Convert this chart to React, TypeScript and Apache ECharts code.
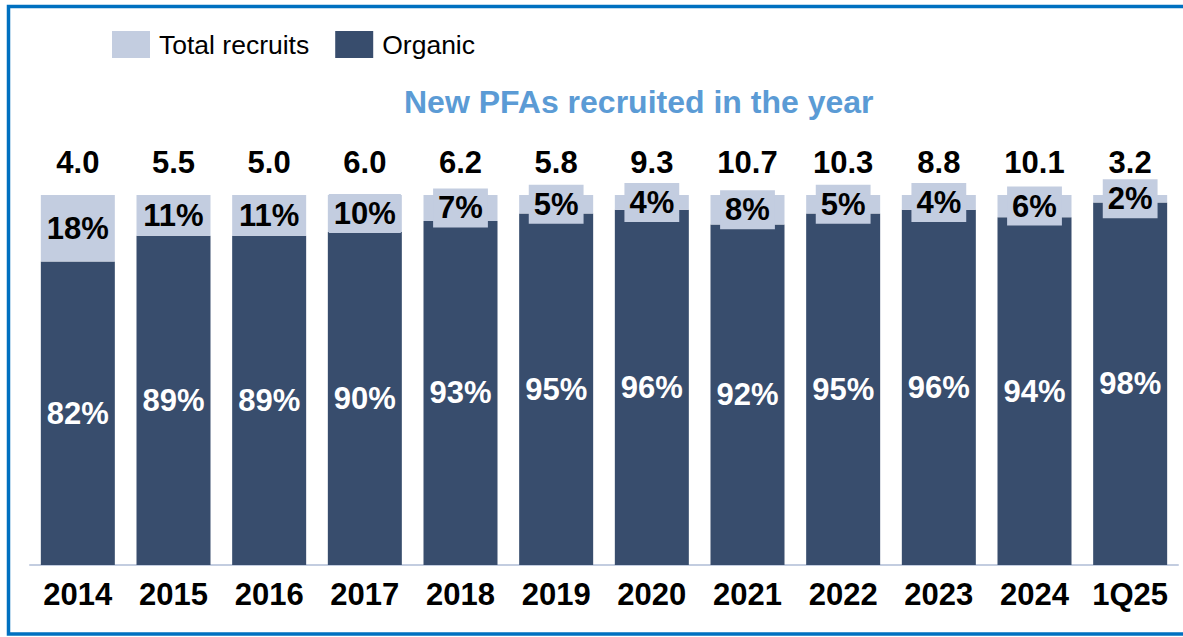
import React, { useEffect, useRef } from "react";
import * as echarts from "echarts";

const categories = ["2014", "2015", "2016", "2017", "2018", "2019", "2020", "2021", "2022", "2023", "2024", "1Q25"];
const organicPct = [82, 89, 89, 90, 93, 95, 96, 92, 95, 96, 94, 98];
const otherPct = [18, 11, 11, 10, 7, 5, 4, 8, 5, 4, 6, 2];
const totals = ["4.0", "5.5", "5.0", "6.0", "6.2", "5.8", "9.3", "10.7", "10.3", "8.8", "10.1", "3.2"];

const DARK = "#384D6D";
const LIGHT = "#C3CDE0";
const FONT = "'Liberation Sans', Arial, sans-serif";
const FS = 31;

export default function App() {
  const ref = useRef<HTMLDivElement>(null);
  useEffect(() => {
    if (!ref.current) return;
    const chart = echarts.init(ref.current, null, { renderer: "svg" });
    chart.setOption({
      animation: false,
      backgroundColor: "#ffffff",
      textStyle: { fontFamily: FONT },
      title: {
        text: "New PFAs recruited in the year",
        left: 404,
        top: 86,
        padding: 0,
        textStyle: { color: "#5B9BD5", fontSize: 32, fontWeight: "bold", fontFamily: FONT },
      },
      legend: {
        data: ["Total recruits", "Organic"],
        left: 112,
        top: 31,
        padding: 0,
        icon: "rect",
        itemWidth: 38,
        itemHeight: 27,
        itemGap: 26,
        textStyle: { fontSize: 26.5, color: "#000", fontFamily: FONT, padding: [0, 0, 0, 4] },
      },
      grid: { left: 30, right: 5, top: 195, bottom: 72, containLabel: false },
      xAxis: {
        type: "category",
        data: categories,
        axisLine: { lineStyle: { color: LIGHT, width: 2 } },
        axisTick: { show: false },
        axisLabel: { interval: 0, color: "#000", fontSize: FS, fontWeight: "bold", margin: 14, fontFamily: FONT },
      },
      yAxis: { type: "value", min: 0, max: 100, show: false, splitLine: { show: false } },
      series: [
        {
          name: "Organic",
          type: "bar",
          stack: "s",
          data: organicPct,
          barWidth: 74,
          itemStyle: { color: DARK },
          label: {
            show: true,
            position: "inside",
            formatter: "{c}%",
            color: "#fff",
            fontSize: FS,
            fontWeight: "bold",
            fontFamily: FONT,
          },
        },
        {
          name: "Total recruits",
          type: "bar",
          stack: "s",
          data: otherPct,
          barWidth: 74,
          itemStyle: { color: LIGHT },
          label: {
            show: true,
            position: "inside",
            formatter: "{c}%",
            color: "#000",
            fontSize: FS,
            fontWeight: "bold",
            fontFamily: FONT,
            backgroundColor: LIGHT,
            padding: [5, 5, 3, 5],
          },
        },
        {
          name: "Total",
          type: "bar",
          stack: "s",
          data: totals.map(() => 0),
          barWidth: 74,
          itemStyle: { color: "transparent" },
          label: {
            show: true,
            position: "top",
            distance: 17,
            formatter: (p: any) => totals[p.dataIndex],
            color: "#000",
            fontSize: FS,
            fontWeight: "bold",
            fontFamily: FONT,
          },
        },
      ],
      graphic: [
        {
          type: "rect",
          shape: { x: 8.5, y: 6.5, width: 1300, height: 627.5 },
          style: { fill: "none", stroke: "#0070C0", lineWidth: 3.5 },
          silent: true,
        },
      ],
    });
    return () => chart.dispose();
  }, []);
  return (
    <div
      ref={ref}
      style={{ position: "fixed", left: 0, top: 0, width: 1183, height: 637 }}
    />
  );
}
